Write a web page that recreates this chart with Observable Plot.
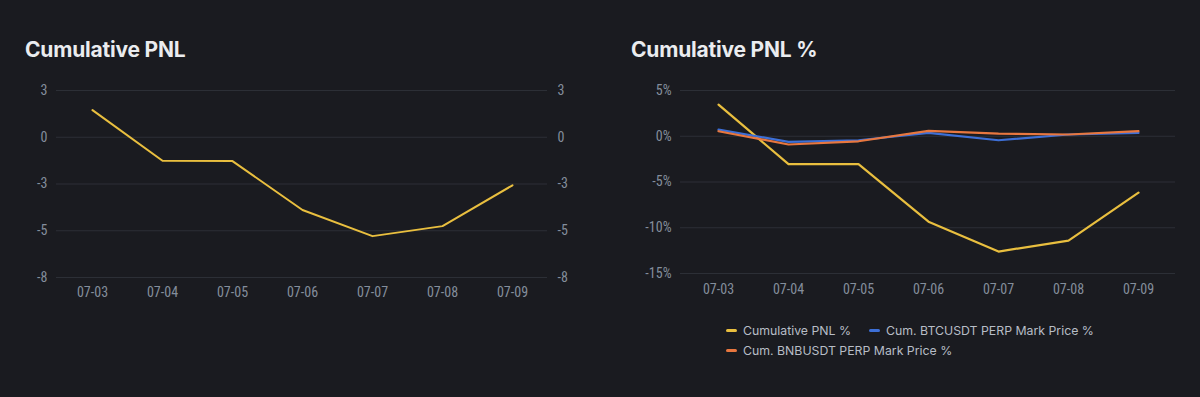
<!DOCTYPE html>
<html>
<head>
<meta charset="utf-8">
<script src="https://cdn.jsdelivr.net/npm/d3@7"></script>
<script src="https://cdn.jsdelivr.net/npm/@observablehq/plot@0.6"></script>
<style>
  html, body { margin: 0; padding: 0; background: #1a1b20; width: 1200px; height: 397px; overflow: hidden; }
  .title { position: absolute; top: 37px; font-family: Inter, "Noto Sans", sans-serif; font-weight: 700; font-size: 21px; color: #eaecef; letter-spacing: -0.2px; }
  .chart { position: absolute; top: 70px; }
  .legend { position: absolute; left: 726px; top: 319px; width: 420px; font-family: Inter, "Noto Sans", sans-serif; font-size: 12.3px; color: #b7bdc6; line-height: 17px; }
  .legend .item { display: inline-flex; align-items: center; margin-right: 18px; white-space: nowrap; }
  .legend .sw { display: inline-block; width: 11px; height: 3px; border-radius: 1.5px; margin-right: 6px; }
</style>
</head>
<body>
<div class="title" style="left:25px">Cumulative PNL</div>
<div class="title" style="left:631px">Cumulative PNL %</div>
<div class="chart" id="left" style="left:0px"></div>
<div class="chart" id="right" style="left:600px"></div>
<div class="legend" id="legend"></div>
<script>
const dates = ["07-03", "07-04", "07-05", "07-06", "07-07", "07-08", "07-09"];
const pnl = [1.55, -1.34, -1.36, -4.15, -5.64, -5.07, -2.74];
const pnlPct = [3.46, -3.05, -3.05, -9.34, -12.6, -11.4, -6.17];
const btcPct = [0.73, -0.61, -0.44, 0.37, -0.44, 0.19, 0.37];
const bnbPct = [0.55, -0.9, -0.55, 0.59, 0.29, 0.19, 0.55];
const seriesNames = ["Cumulative PNL %", "Cum. BTCUSDT PERP Mark Price %", "Cum. BNBUSDT PERP Mark Price %"];
const seriesColors = ["#e9bf3f", "#3d6fd6", "#e8773f"];
const leftTicks = [8/3, 0, -8/3, -16/3, -8];
const rightTicks = [5, 0, -5, -10, -15];

const tickFont = "'Liberation Sans Narrow', 'Roboto Condensed', Roboto, sans-serif";
const gray = "#848e9c";
const gridColor = "#2c2f36";

const pnlData = dates.map((d, i) => ({date: d, value: pnl[i]}));
const pctData = [pnlPct, btcPct, bnbPct].flatMap((arr, s) =>
  dates.map((d, i) => ({date: d, value: arr[i], series: seriesNames[s]})));

const left = Plot.plot({
  width: 600, height: 247,
  marginTop: 20, marginBottom: 40, marginLeft: 56, marginRight: 53,
  style: {background: "transparent", color: gray, fontFamily: tickFont, fontSize: "14px"},
  x: {type: "point", domain: dates, padding: 0.5},
  y: {domain: [-8, 8/3]},
  marks: [
    Plot.gridY(leftTicks, {stroke: gridColor, strokeOpacity: 1, strokeWidth: 1}),
    Plot.axisX({tickSize: 0, tickPadding: 10, label: null, fill: gray}),
    Plot.axisY(leftTicks, {anchor: "left", tickSize: 0, tickPadding: 9, label: null, tickFormat: d => String(Math.round(d)), fill: gray}),
    Plot.axisY(leftTicks, {anchor: "right", tickSize: 0, tickPadding: 10, label: null, tickFormat: d => String(Math.round(d)), fill: gray}),
    Plot.line(pnlData, {x: "date", y: "value", stroke: seriesColors[0], strokeWidth: 2})
  ]
});
document.getElementById("left").appendChild(left);

const right = Plot.plot({
  width: 600, height: 243,
  marginTop: 20, marginBottom: 40, marginLeft: 80, marginRight: 25,
  style: {background: "transparent", color: gray, fontFamily: tickFont, fontSize: "14px"},
  x: {type: "point", domain: dates, padding: 0.5},
  y: {domain: [-15, 5]},
  color: {domain: seriesNames, range: seriesColors},
  marks: [
    Plot.gridY(rightTicks, {stroke: gridColor, strokeOpacity: 1, strokeWidth: 1}),
    Plot.axisX({tickSize: 0, tickPadding: 11, label: null, fill: gray}),
    Plot.axisY(rightTicks, {anchor: "left", tickSize: 0, tickPadding: 9, label: null, tickFormat: d => `${d}%`, fill: gray}),
    Plot.line(pctData, {x: "date", y: "value", z: "series", stroke: "series", strokeWidth: 2.2})
  ]
});
document.getElementById("right").appendChild(right);

const legend = document.getElementById("legend");
seriesNames.forEach((name, i) => {
  const item = document.createElement("span");
  item.className = "item";
  const sw = document.createElement("span");
  sw.className = "sw";
  sw.style.background = seriesColors[i];
  item.appendChild(sw);
  item.appendChild(document.createTextNode(name));
  legend.appendChild(item);
  if (i === 1) legend.appendChild(document.createElement("br"));
});
</script>
</body>
</html>
